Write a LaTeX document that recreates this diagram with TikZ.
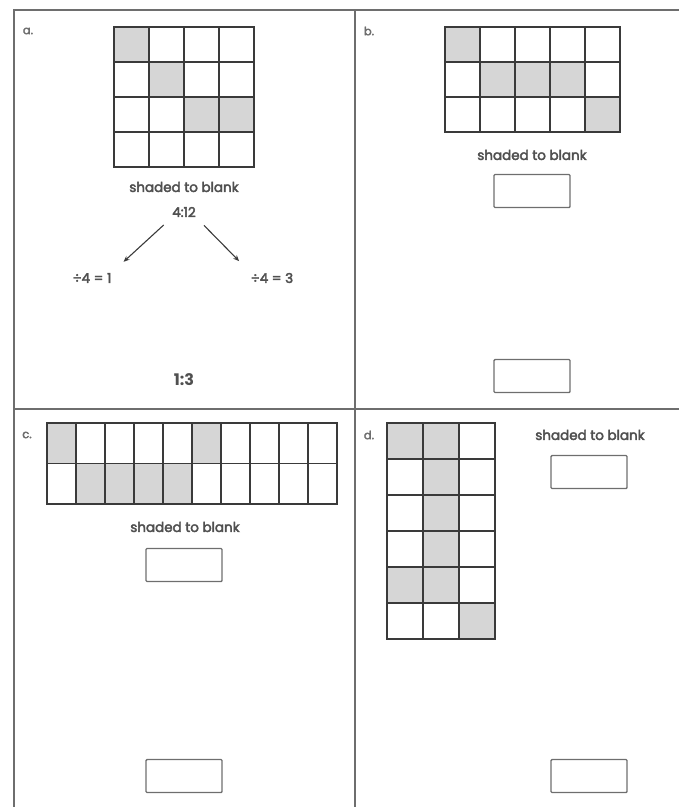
\documentclass[tikz,border=0pt]{standalone}
\usepackage{fontspec}
\setmainfont{Poppins}
\newfontfamily\txtfont{Poppins}[FakeBold=3]
\usetikzlibrary{arrows.meta,positioning}
\definecolor{framec}{HTML}{6E6E6E}
\definecolor{linec}{HTML}{3A3A3A}
\definecolor{shadec}{HTML}{D6D6D6}
\definecolor{textc}{HTML}{505050}
\tikzset{
  frameln/.style={framec, line width=1.6pt},
  cellbox/.style={draw=linec, line width=1.2pt},
  shadecell/.style={fill=shadec},
  txt/.style={font=\txtfont\fontsize{13.5}{15}\selectfont, text=textc, inner sep=1pt},
  qlbl/.style={font=\txtfont\fontsize{11.5}{13}\selectfont, text=framec, inner sep=1pt},
  ansbox/.style={draw=framec, line width=1.4pt, rounded corners=1pt, minimum width=76pt, minimum height=33pt, inner sep=0pt},
  arr/.style={-{Stealth[length=6pt,width=5pt]}, line width=1.1pt, linec},
}
% x0, y0, columns, rows, cell width, cell height, shaded cells col/row
\newcommand{\cellgrid}[7]{%
  \foreach \c/\r in {#7} \fill[shadecell] (#1+#5*\c, #2+#6*\r) rectangle ++(#5,#6);
  \foreach \c in {1,...,#3} \foreach \r in {1,...,#4}
    \draw[cellbox] (#1+#5*\c-#5, #2+#6*\r-#6) rectangle ++(#5,#6);
}

\begin{document}
\begin{tikzpicture}[x=1pt, y=-1pt]
  \useasboundingbox (0,0) rectangle (679,807);
  % frame of the four parts
  \coordinate (tl) at (14,10);
  \coordinate (tr) at (679,10);
  \coordinate (bl) at (14,807);
  \coordinate (tm) at (355,10);
  \coordinate (bm) at (355,807);
  \coordinate (ml) at (14,409);
  \coordinate (mr) at (679,409);
  \draw[frameln] (bl) -- (tl) -- (tr);
  \draw[frameln] (tm) -- (bm);
  \draw[frameln] (ml) -- (mr);

  % a.
  \node[qlbl] (la) at (28,31) {a.};
  \cellgrid{114}{27}{4}{4}{35}{35}{0/0,1/1,2/2,3/2}
  \node[txt] (sta) at (184,187) {shaded to blank};
  \node[txt] (ratio) at (184,212) {4:12};
  \node[txt] (divl) at (92,278) {÷4 = 1};
  \node[txt] (divr) at (272,278) {÷4 = 3};
  \draw[arr, shorten <=10pt, shorten >=15pt] (ratio.south west) -- (divl.north east);
  \draw[arr, shorten <=10pt, shorten >=15pt] (ratio.south east) -- (divr.north west);
  \node[txt, font=\fontsize{16}{18}\selectfont\bfseries] (resa) at (184,380) {1:3};

  % b.
  \node[qlbl] (lb) at (369,31) {b.};
  \cellgrid{445}{27}{5}{3}{35}{35}{0/0,1/1,2/1,3/1,4/2}
  \node[txt] (stb) at (532,155) {shaded to blank};
  \node[ansbox] (ansb) at (532,191) {};
  \node[ansbox] (resb) at (532,376) {};

  % c.
  \node[qlbl] (lc) at (27,435) {c.};
  \cellgrid{47}{423}{10}{2}{29}{40.5}{0/0,5/0,1/1,2/1,3/1,4/1}
  \node[txt] (stc) at (185,527) {shaded to blank};
  \node[ansbox] (ansc) at (184,565) {};
  \node[ansbox] (resc) at (184,776) {};

  % d.
  \node[qlbl] (ld) at (369,435) {d.};
  \cellgrid{387}{423}{3}{6}{36}{36}{0/0,1/0,1/1,1/2,1/3,0/4,1/4,2/5}
  \node[txt] (std) at (590,435) {shaded to blank};
  \node[ansbox] (ansd) at (589,472) {};
  \node[ansbox] (resd) at (589,776) {};
\end{tikzpicture}
\end{document}
